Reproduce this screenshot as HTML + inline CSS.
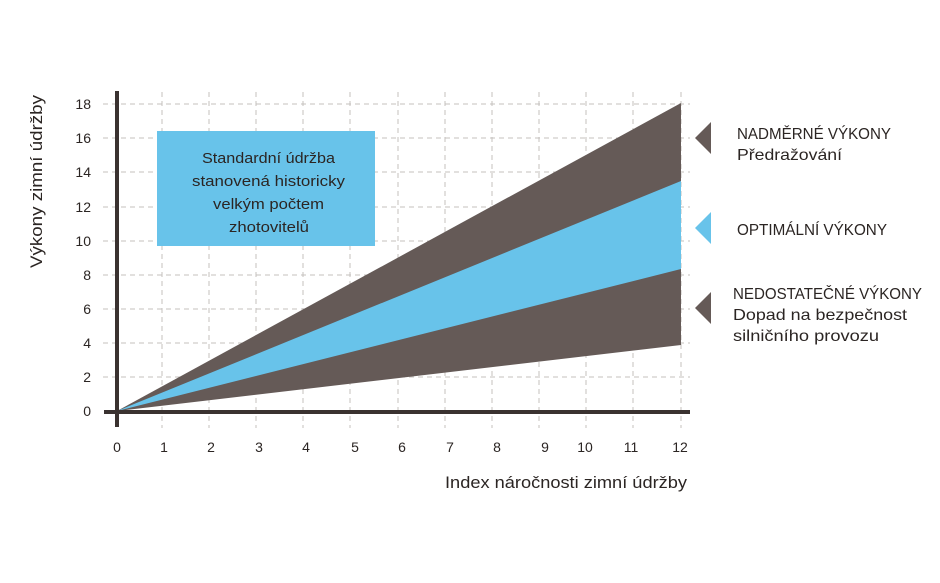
<!DOCTYPE html>
<html><head><meta charset="utf-8"><style>
html,body{margin:0;padding:0;background:#fff;}
svg{display:block;}
text{font-family:"Liberation Sans Narrow","Liberation Sans",sans-serif;fill:#2b2523;}
</style></head><body>
<svg width="940" height="583" viewBox="0 0 940 583" xmlns="http://www.w3.org/2000/svg">
<g stroke="#c4c0be" stroke-width="1" stroke-dasharray="5,4" fill="none">
<line x1="103" y1="104" x2="690" y2="104"/>
<line x1="103" y1="138" x2="690" y2="138"/>
<line x1="103" y1="172" x2="690" y2="172"/>
<line x1="103" y1="207" x2="690" y2="207"/>
<line x1="103" y1="241" x2="690" y2="241"/>
<line x1="103" y1="275" x2="690" y2="275"/>
<line x1="103" y1="309" x2="690" y2="309"/>
<line x1="103" y1="343" x2="690" y2="343"/>
<line x1="103" y1="377" x2="690" y2="377"/>
<line x1="162" y1="92" x2="162" y2="428"/>
<line x1="209" y1="92" x2="209" y2="428"/>
<line x1="256" y1="92" x2="256" y2="428"/>
<line x1="303" y1="92" x2="303" y2="428"/>
<line x1="350" y1="92" x2="350" y2="428"/>
<line x1="398" y1="92" x2="398" y2="428"/>
<line x1="445" y1="92" x2="445" y2="428"/>
<line x1="492" y1="92" x2="492" y2="428"/>
<line x1="539" y1="92" x2="539" y2="428"/>
<line x1="586" y1="92" x2="586" y2="428"/>
<line x1="633" y1="92" x2="633" y2="428"/>
<line x1="681" y1="92" x2="681" y2="428"/>
</g>
<polygon points="117,411 681,103 681,345" fill="#655a57"/>
<polygon points="117,411 681,181 681,269" fill="#68c3ea"/>
<rect x="157" y="131" width="218" height="115" fill="#68c3ea"/>
<g font-size="15" lengthAdjust="spacingAndGlyphs">
<text x="202" y="163" textLength="133" lengthAdjust="spacingAndGlyphs">Standardní údržba</text>
<text x="192" y="186" textLength="153" lengthAdjust="spacingAndGlyphs">stanovená historicky</text>
<text x="213" y="209" textLength="111" lengthAdjust="spacingAndGlyphs">velkým počtem</text>
<text x="229" y="232" textLength="80" lengthAdjust="spacingAndGlyphs">zhotovitelů</text>
</g>
<line x1="117" y1="91" x2="117" y2="427" stroke="#3a3230" stroke-width="4"/>
<line x1="104" y1="412" x2="690" y2="412" stroke="#3a3230" stroke-width="4"/>
<g font-size="14" text-anchor="end">
<text x="91" y="109">18</text><text x="91" y="143">16</text><text x="91" y="177">14</text>
<text x="91" y="212">12</text><text x="91" y="246">10</text><text x="91" y="280">8</text>
<text x="91" y="314">6</text><text x="91" y="348">4</text><text x="91" y="382">2</text>
<text x="91" y="416">0</text>
</g>
<g font-size="14" text-anchor="middle">
<text x="117" y="452">0</text><text x="164" y="452">1</text><text x="211" y="452">2</text>
<text x="259" y="452">3</text><text x="306" y="452">4</text><text x="355" y="452">5</text>
<text x="402" y="452">6</text><text x="450" y="452">7</text><text x="497" y="452">8</text>
<text x="545" y="452">9</text><text x="585" y="452">10</text><text x="631" y="452">11</text>
<text x="680" y="452">12</text>
</g>
<text x="445" y="488" font-size="17" textLength="242" lengthAdjust="spacingAndGlyphs">Index náročnosti zimní údržby</text>
<text transform="translate(42,268) rotate(-90)" font-size="17" textLength="173" lengthAdjust="spacingAndGlyphs">Výkony zimní údržby</text>
<polygon points="695,138 711,122 711,154" fill="#655a57"/>
<polygon points="695,228 711,212 711,244" fill="#68c3ea"/>
<polygon points="695,308 711,292 711,324" fill="#655a57"/>
<g font-size="16">
<text x="737" y="139" textLength="154" lengthAdjust="spacingAndGlyphs">NADMĚRNÉ VÝKONY</text>
<text x="737" y="160" textLength="105" lengthAdjust="spacingAndGlyphs">Předražování</text>
<text x="737" y="235" textLength="150" lengthAdjust="spacingAndGlyphs">OPTIMÁLNÍ VÝKONY</text>
<text x="733" y="299" textLength="189" lengthAdjust="spacingAndGlyphs">NEDOSTATEČNÉ VÝKONY</text>
<text x="733" y="320" textLength="174" lengthAdjust="spacingAndGlyphs">Dopad na bezpečnost</text>
<text x="733" y="341" textLength="146" lengthAdjust="spacingAndGlyphs">silničního provozu</text>
</g>
</svg>
</body></html>
